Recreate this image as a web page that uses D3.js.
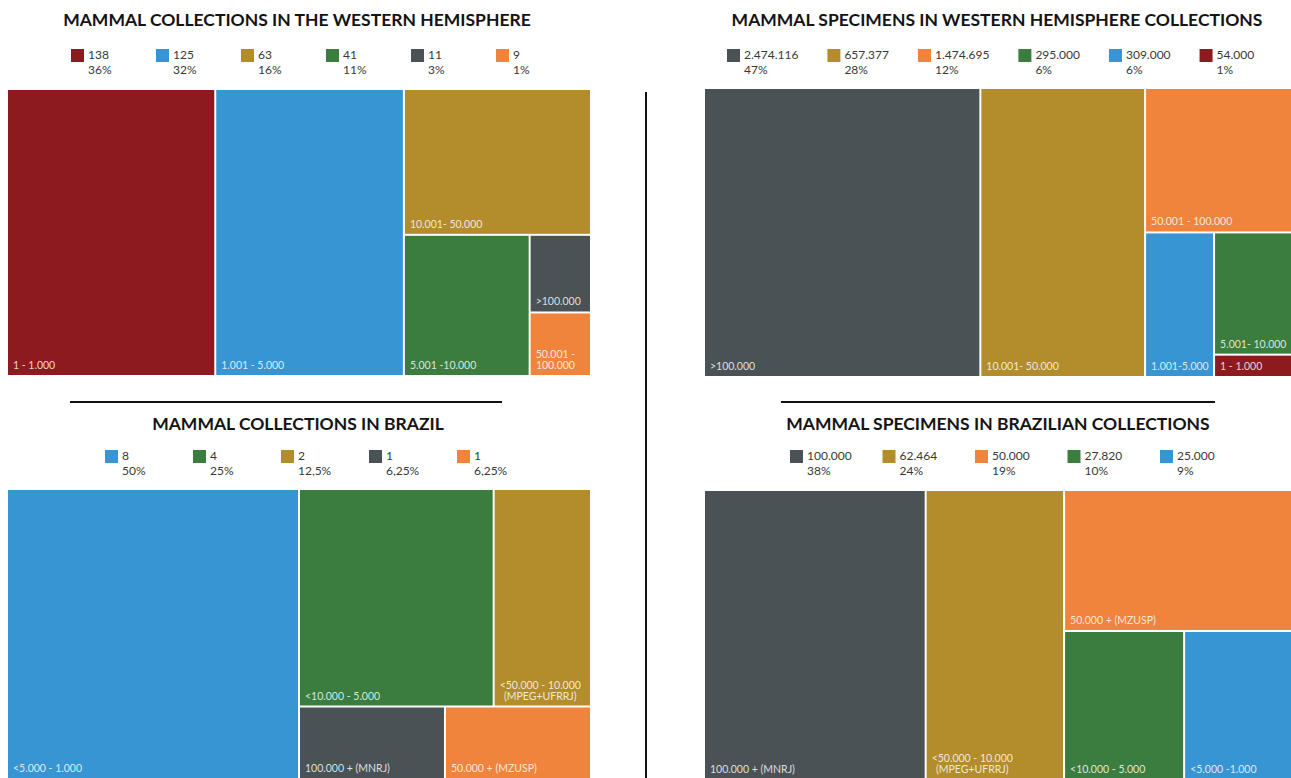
<!DOCTYPE html>
<html>
<head>
<meta charset="utf-8">
<script src="https://cdn.jsdelivr.net/npm/d3@7"></script>
<style>
  body { margin: 0; background: #fff; }
  svg { display: block; font-family: Lato, "Open Sans", sans-serif; }
  .title { font-weight: 700; font-size: 17.5px; fill: #141414; text-anchor: middle; }
  .leg { font-size: 12px; fill: #383838; }
  .cell-label { font-size: 10.5px; fill: #fff; fill-opacity: .82; }
</style>
</head>
<body>
<svg id="chart" width="1291" height="778"></svg>
<script>
// colours used by every panel
const colours = {
    red: "#8c1a1e", blue: "#3895d3", gold: "#b38c2b",
    green: "#3a7d3f", grey: "#4a5255", orange: "#f0843c"
};

// mammal collections in the western hemisphere
const whRanges = ["1 - 1.000", "1.001 - 5.000", "10.001- 50.000", "5.001 -10.000", ">100.000", "50.001 -\n100.000"];
const whCollections = [138, 125, 63, 41, 11, 9];
const whKeys = ["red", "blue", "gold", "green", "grey", "orange"];
const whLegendText = ["138", "125", "63", "41", "11", "9"];
const whLegendPct = ["36%", "32%", "16%", "11%", "3%", "1%"];
const whLegendKeys = ["red", "blue", "gold", "green", "grey", "orange"];
const whNest = [0, 1, [2, [3, [4, 5]]]];

// mammal specimens in western hemisphere collections
const whSpecRanges = [">100.000", "10.001- 50.000", "50.001 - 100.000", "1.001-5.000", "5.001- 10.000", "1 - 1.000"];
const whSpecimens = [2474116, 1474695, 657377, 309000, 295000, 54000];
const whSpecKeys = ["grey", "gold", "orange", "blue", "green", "red"];
const whSpecLegendText = ["2.474.116", "657.377", "1.474.695", "295.000", "309.000", "54.000"];
const whSpecLegendPct = ["47%", "28%", "12%", "6%", "6%", "1%"];
const whSpecLegendKeys = ["grey", "gold", "orange", "green", "blue", "red"];
const whSpecNest = [0, 1, [2, [3, [4, 5]]]];

// mammal collections in brazil
const brRanges = ["<5.000 - 1.000", "<10.000 - 5.000", "<50.000 - 10.000\n(MPEG+UFRRJ)", "100.000 + (MNRJ)", "50.000 + (MZUSP)"];
const brCollections = [8, 4, 2, 1, 1];
const brKeys = ["blue", "green", "gold", "grey", "orange"];
const brLegendText = ["8", "4", "2", "1", "1"];
const brLegendPct = ["50%", "25%", "12,5%", "6,25%", "6,25%"];
const brNest = [0, [[1, 2], [3, 4]]];

// mammal specimens in brazilian collections
const brSpecRanges = ["100.000 + (MNRJ)", "<50.000 - 10.000\n(MPEG+UFRRJ)", "50.000 + (MZUSP)", "<10.000 - 5.000", "<5.000 -1.000"];
const brSpecimens = [100000, 62464, 50000, 27820, 25000];
const brSpecKeys = ["grey", "gold", "orange", "green", "blue"];
const brSpecLegendText = ["100.000", "62.464", "50.000", "27.820", "25.000"];
const brSpecLegendPct = ["38%", "24%", "19%", "10%", "9%"];
const brSpecNest = [0, 1, [2, [3, 4]]];

const svg = d3.select("#chart");

const toTree = n => Array.isArray(n) ? { children: n.map(toTree) } : { i: n };

const drawTreemap = (p) => {
    const g = svg.append("g").attr("transform", `translate(${p.x},${p.y})`);
    const root = d3.hierarchy(toTree(p.nest))
        .sum(d => d.i === undefined ? 0 : p.values[d.i]);
    d3.treemap()
        .tile(d3.treemapSliceDice)
        .size([p.w, p.h])
        .paddingInner(2)(root);

    const leaf = g.selectAll("g")
        .data(root.leaves())
        .join("g")
        .attr("transform", d => `translate(${d.x0},${d.y0})`);

    leaf.append("rect")
        .attr("width", d => d.x1 - d.x0)
        .attr("height", d => d.y1 - d.y0)
        .attr("fill", d => colours[p.keys[d.data.i]]);

    leaf.each(function (d) {
        const lines = p.labels[d.data.i].split("\n");
        const h = d.y1 - d.y0;
        const text = d3.select(this).append("text").attr("class", "cell-label");
        const spans = lines.map((l, k) => text.append("tspan")
            .attr("x", 5)
            .attr("y", h - 6 - (lines.length - 1 - k) * 11)
            .text(l));
        // centre the lines of a two line label on each other
        if (spans.length > 1) {
            const widths = spans.map(s => s.node().getComputedTextLength());
            const maxW = d3.max(widths);
            spans.forEach((s, k) => s.attr("x", 5 + (maxW - widths[k]) / 2));
        }
    });
};

// legend items sit side by side, each one at least minStep wide
const drawLegend = (p) => {
    const g = svg.append("g").attr("transform", `translate(${p.x},${p.y})`);
    const item = g.selectAll("g")
        .data(p.keys)
        .join("g");
    item.append("rect")
        .attr("width", 13).attr("height", 13)
        .attr("fill", d => colours[d]);
    const vals = item.append("text").attr("class", "leg")
        .attr("x", 17).attr("y", 10)
        .text((d, i) => p.text[i]);
    item.append("text").attr("class", "leg")
        .attr("x", 17).attr("y", 25)
        .text((d, i) => p.pct[i]);
    let cx = 0;
    item.each(function (d, i) {
        d3.select(this).attr("transform", `translate(${cx},0)`);
        const w = vals.nodes()[i].getComputedTextLength();
        cx += Math.max(p.minStep, 17 + w + p.gap);
    });
};

const drawTitle = (text, x, y) =>
    svg.append("text").attr("class", "title").attr("x", x).attr("y", y).text(text);

// titles
drawTitle("MAMMAL COLLECTIONS IN THE WESTERN HEMISPHERE", 297, 26);
drawTitle("MAMMAL SPECIMENS IN WESTERN HEMISPHERE COLLECTIONS", 997, 26);
drawTitle("MAMMAL COLLECTIONS IN BRAZIL", 298, 430);
drawTitle("MAMMAL SPECIMENS IN BRAZILIAN COLLECTIONS", 998, 430);

// legends
drawLegend({ keys: whLegendKeys, text: whLegendText, pct: whLegendPct, x: 71, y: 49, minStep: 85, gap: 0 });
drawLegend({ keys: whSpecLegendKeys, text: whSpecLegendText, pct: whSpecLegendPct, x: 727, y: 49, minStep: 0, gap: 29 });
drawLegend({ keys: brKeys, text: brLegendText, pct: brLegendPct, x: 105, y: 450, minStep: 88, gap: 0 });
drawLegend({ keys: brSpecKeys, text: brSpecLegendText, pct: brSpecLegendPct, x: 790, y: 450, minStep: 92.5, gap: 0 });

// treemaps
drawTreemap({ x: 8, y: 90, w: 582, h: 285, nest: whNest, values: whCollections, keys: whKeys, labels: whRanges });
drawTreemap({ x: 705, y: 89, w: 586, h: 287, nest: whSpecNest, values: whSpecimens, keys: whSpecKeys, labels: whSpecRanges });
drawTreemap({ x: 8, y: 490, w: 582, h: 288, nest: brNest, values: brCollections, keys: brKeys, labels: brRanges });
drawTreemap({ x: 705, y: 491, w: 586, h: 288, nest: brSpecNest, values: brSpecimens, keys: brSpecKeys, labels: brSpecRanges });

// separators
svg.append("line").attr("x1", 646).attr("x2", 646).attr("y1", 92).attr("y2", 778)
    .attr("stroke", "#111").attr("stroke-width", 2);
svg.append("line").attr("x1", 70).attr("x2", 502).attr("y1", 402).attr("y2", 402)
    .attr("stroke", "#111").attr("stroke-width", 2);
svg.append("line").attr("x1", 781).attr("x2", 1215).attr("y1", 402).attr("y2", 402)
    .attr("stroke", "#111").attr("stroke-width", 2);
</script>
</body>
</html>
